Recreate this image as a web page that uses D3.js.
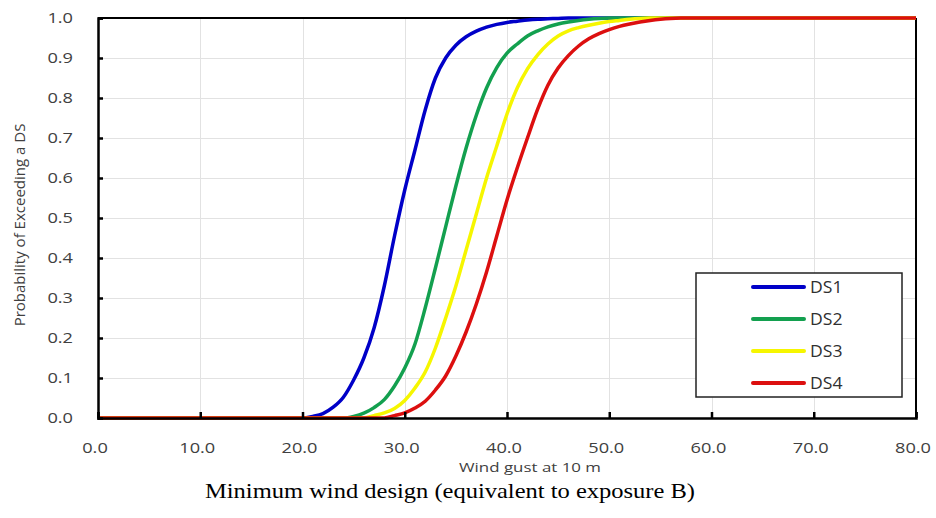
<!DOCTYPE html>
<meta charset="utf-8">
<script src="https://d3js.org/d3.v7.min.js"></script>
<style>
body { margin: 0; background: #fff; }
.tick-label { font: 14px "Open Sans", sans-serif; fill: #404040; }
.axis-title { font: 13px "Open Sans", sans-serif; fill: #404040; }
.legend-label { font: 16px "Open Sans", sans-serif; fill: #303030; }
.caption { font: 21px "Liberation Serif", serif; fill: #000; }
.grid line { stroke: #e2e2e2; stroke-width: 1px; shape-rendering: crispEdges; }
.line { fill: none; stroke-width: 3.5px; stroke-linejoin: round; }
</style>
<div id="plot"></div>
<script>
// wind gust at 10 m (x values shared by all series)
var wind = [0, 20, 21, 22, 23, 24, 25, 26, 27, 28, 29, 30, 31, 32, 33, 34, 35, 36, 37, 38, 39,
            40, 41, 42, 43, 44, 45, 46, 47, 48, 49, 50, 51, 52, 53, 54, 55, 56, 57, 80];

var ds1 = [0, 0, 0.004, 0.011, 0.027, 0.052, 0.095, 0.15, 0.225, 0.33, 0.455, 0.57, 0.67, 0.77, 0.85, 0.90,
           0.932, 0.953, 0.967, 0.977, 0.984, 0.989, 0.992, 0.995, 0.997, 0.998, 0.999,
           1, 1, 1, 1, 1, 1, 1, 1, 1, 1, 1, 1, 1];
var ds2 = [0, 0, 0, 0, 0, 0, 0.004, 0.012, 0.026, 0.046, 0.08, 0.125, 0.185, 0.275, 0.375, 0.478, 0.58, 0.675,
           0.757, 0.825, 0.876, 0.912, 0.935, 0.955, 0.968, 0.978, 0.985, 0.99, 0.994, 0.997, 0.999,
           1, 1, 1, 1, 1, 1, 1, 1, 1];
var ds3 = [0, 0, 0, 0, 0, 0, 0, 0, 0.006, 0.013, 0.024, 0.044, 0.075, 0.115, 0.175, 0.25, 0.33, 0.42,
           0.51, 0.60, 0.68, 0.76, 0.825, 0.873, 0.908, 0.935, 0.955, 0.968, 0.976, 0.982, 0.987,
           0.991, 0.994, 0.997, 0.999, 1, 1, 1, 1, 1];
var ds4 = [0, 0, 0, 0, 0, 0, 0, 0, 0, 0, 0.006, 0.013, 0.025, 0.042, 0.07, 0.105, 0.155, 0.215, 0.285,
           0.365, 0.455, 0.545, 0.625, 0.70, 0.772, 0.832, 0.875, 0.906, 0.93, 0.948, 0.961, 0.971,
           0.979, 0.985, 0.99, 0.994, 0.997, 0.999, 1, 1];

var seriesNames = ["DS1", "DS2", "DS3", "DS4"];
var seriesColors = ["#0000c8", "#13a04f", "#f6f600", "#dc0f0f"];
var xTicks = [0, 10, 20, 30, 40, 50, 60, 70, 80];
var yTicks = [0, 0.1, 0.2, 0.3, 0.4, 0.5, 0.6, 0.7, 0.8, 0.9, 1.0];

var W = 936, H = 518;
var margin = {top: 18, right: 20, bottom: 100, left: 98},
    width = 916 - margin.left,
    height = 418 - margin.top;

var svg = d3.select("#plot").append("svg")
    .attr("width", W).attr("height", H)
  .append("g")
    .attr("transform", "translate(" + margin.left + "," + margin.top + ")");

var x = d3.scaleLinear().domain([0, 80]).range([0, width]);
var y = d3.scaleLinear().domain([0, 1]).range([height, 0]);

// grid
var grid = svg.append("g").attr("class", "grid");
grid.selectAll(".gx").data(xTicks.slice(1, -1)).enter().append("line")
    .attr("x1", d => Math.round(x(d)) + 0.5).attr("x2", d => Math.round(x(d)) + 0.5)
    .attr("y1", 0).attr("y2", height);
grid.selectAll(".gy").data(yTicks.slice(1, -1)).enter().append("line")
    .attr("x1", 0).attr("x2", width)
    .attr("y1", d => Math.round(y(d)) + 0.5).attr("y2", d => Math.round(y(d)) + 0.5);

// frame
svg.append("line").attr("x1", 0).attr("x2", width).attr("y1", 0).attr("y2", 0)
    .attr("stroke", "#000").attr("stroke-width", 2);
svg.append("line").attr("x1", width).attr("x2", width).attr("y1", 0).attr("y2", height)
    .attr("stroke", "#000").attr("stroke-width", 2);

// series
var series = [ds1, ds2, ds3, ds4];
var line = d3.line()
    .x((d, i) => x(wind[i]))
    .y(d => y(d))
    .curve(d3.curveMonotoneX);

series.forEach(function(s, k) {
  svg.append("path")
    .datum(s)
    .attr("class", "line")
    .attr("stroke", seriesColors[k])
    .attr("d", line);
});

// axes
var xAxis = d3.axisBottom(x).tickValues(xTicks).tickSize(-6).tickFormat("");
var yAxis = d3.axisLeft(y).tickValues(yTicks).tickSize(-5).tickFormat("");

var gx = svg.append("g").attr("transform", "translate(0," + height + ")").call(xAxis);
var gy = svg.append("g").call(yAxis);
[gx, gy].forEach(function(g) {
  g.select(".domain").attr("stroke", "#000").attr("stroke-width", 2.5);
  g.selectAll(".tick line").attr("stroke", "#000").attr("stroke-width", 2.5);
});

// labels are a bit wider than the font, so stretch them horizontally
svg.selectAll(".xlab").data(xTicks).enter().append("text")
    .attr("class", "tick-label")
    .attr("transform", d => "translate(" + (x(d) - 3) + "," + (height + 35) + ") scale(1.3,1)")
    .attr("text-anchor", "middle")
    .text(d => d3.format(".1f")(d));

svg.selectAll(".ylab").data(yTicks).enter().append("text")
    .attr("class", "tick-label")
    .attr("transform", d => "translate(-25," + y(d) + ") scale(1.3,1)")
    .attr("dy", "0.35em")
    .attr("text-anchor", "end")
    .text(d => d3.format(".1f")(d));

// axis titles
svg.append("text")
    .attr("class", "axis-title")
    .attr("transform", "translate(" + (530 - margin.left) + "," + (472 - margin.top) + ") scale(1.3,1)")
    .attr("text-anchor", "middle")
    .text("Wind gust at 10 m");

svg.append("text")
    .attr("class", "axis-title")
    .style("font-size", "15px")
    .attr("transform", "translate(" + (25 - margin.left) + "," + (225 - margin.top) + ") rotate(-90)")
    .attr("text-anchor", "middle")
    .text("Probability of Exceeding a DS");

svg.append("text")
    .attr("class", "caption")
    .attr("x", 205 - margin.left)
    .attr("y", 498 - margin.top)
    .attr("textLength", 490)
    .attr("lengthAdjust", "spacingAndGlyphs")
    .text("Minimum wind design (equivalent to exposure B)");

// legend
var legend = svg.append("g").attr("transform", "translate(" + (696 - margin.left) + "," + (273 - margin.top) + ")");
legend.append("rect")
    .attr("width", 206).attr("height", 124)
    .attr("fill", "#fff").attr("stroke", "#222").attr("stroke-width", 1.5);

var items = legend.selectAll(".item").data(seriesNames).enter().append("g")
    .attr("transform", (d, i) => "translate(0," + (14 + i * 32) + ")");
items.append("line")
    .attr("x1", 57).attr("x2", 108).attr("y1", 0).attr("y2", 0)
    .attr("stroke", (d, i) => seriesColors[i])
    .attr("stroke-width", 4).attr("stroke-linecap", "round");
items.append("text")
    .attr("class", "legend-label")
    .attr("transform", "translate(114,0) scale(1.1,1)")
    .attr("dy", "0.35em")
    .text(d => d);
</script>
